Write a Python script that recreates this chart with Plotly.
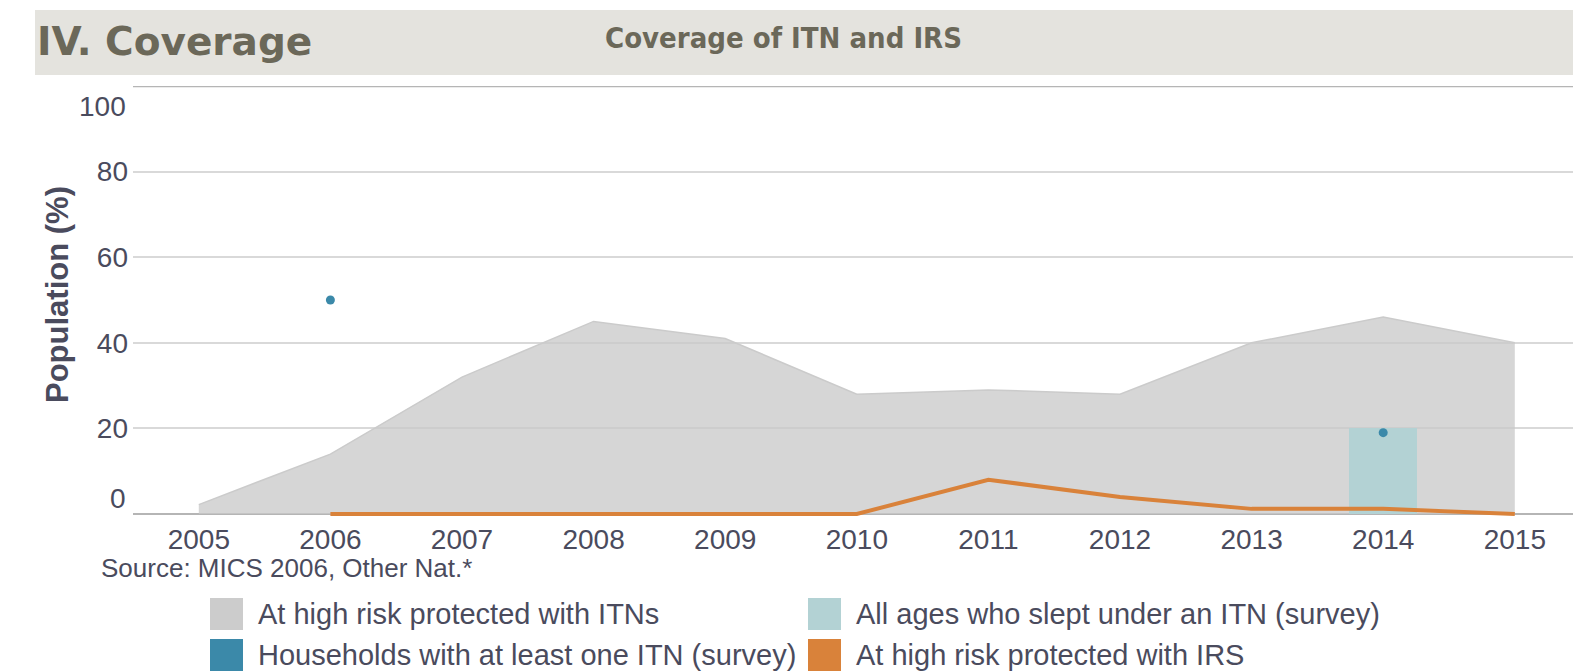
import plotly.graph_objects as go

# ---------------- data ----------------
years = [2005, 2006, 2007, 2008, 2009, 2010, 2011, 2012, 2013, 2014, 2015]
itn_high_risk = [2.2, 14, 32, 45, 41, 28, 29, 28, 40, 46, 40]
irs_years = [2006, 2007, 2008, 2009, 2010, 2011, 2012, 2013, 2014, 2015]
irs_high_risk = [0, 0, 0, 0, 0, 8, 4, 1.2, 1.2, 0]
hh_itn_years = [2006, 2014]
hh_itn = [50, 19]
slept_itn_years = [2014]
slept_itn = [20]
y_ticks = [0, 20, 40, 60, 80, 100]

legend_names = ["At high risk protected with ITNs", "All ages who slept under an ITN (survey)",
                "Households with at least one ITN (survey)", "At high risk protected with IRS"]

C_AREA_LINE = "#cbcbcb"
C_AREA_FILL = "rgba(201,201,201,0.76)"
C_BAR = "#b3d2d4"
C_DOT = "#3b89a9"
C_IRS = "#d9823a"
C_TEXT = "#4a4b5d"
C_HEAD = "#6b6859"
C_AXIS = "#b5b5b5"
legend_colors = ["#cccccc", C_BAR, "#3b89a9", C_IRS]

W, H = 1573, 671
Y_LOW = -1.4  # small room below 0 so the IRS line at 0 is not clipped
ML, MR, MT, MB = 133, 0, 86, 151
PW, PH = W - ML - MR, H - MT - MB


def px_x(px):
    return (px - ML) / PW


def px_y(py):
    return (H - MB - py) / PH


fig = go.Figure()

# area on the base axes (drawn lowest)
fig.add_trace(go.Scatter(
    x=years, y=itn_high_risk, mode="lines", fill="tozeroy",
    line=dict(color=C_AREA_LINE, width=1.5), fillcolor=C_AREA_FILL,
    name=legend_names[0], showlegend=False, hoverinfo="x+y"))

# overlay axes so the survey bar sits above the area
fig.add_trace(go.Bar(
    x=slept_itn_years, y=slept_itn, width=0.52, yaxis="y2",
    marker=dict(color=C_BAR, line=dict(width=0)),
    name=legend_names[1], showlegend=False))

fig.add_trace(go.Scatter(
    x=irs_years, y=irs_high_risk, mode="lines", yaxis="y2",
    line=dict(color=C_IRS, width=4),
    name=legend_names[3], showlegend=False, cliponaxis=False))

fig.add_trace(go.Scatter(
    x=hh_itn_years, y=hh_itn, mode="markers", yaxis="y2",
    marker=dict(color=C_DOT, size=9),
    name=legend_names[2], showlegend=False))

font_main = "Liberation Sans, Arial, Helvetica, sans-serif"

fig.update_layout(
    width=W, height=H,
    margin=dict(l=ML, r=MR, t=MT, b=MB, pad=0),
    paper_bgcolor="white", plot_bgcolor="white",
    showlegend=False,
    bargap=0,
    font=dict(family=font_main, color=C_TEXT),
    xaxis=dict(
        range=[2004.5, 2004.5 + PW / 131.6],
        tickmode="array", tickvals=years, ticktext=[str(y) for y in years],
        tickfont=dict(size=28, color=C_TEXT, family=font_main),
        showgrid=False, zeroline=False, ticks="", ticklabelstandoff=0,
        showline=False, fixedrange=True,
    ),
    yaxis=dict(
        range=[Y_LOW, 100],
        tickmode="array", tickvals=y_ticks[1:-1], ticktext=[str(v) for v in y_ticks[1:-1]],
        tickfont=dict(size=28, color=C_TEXT, family=font_main),
        showgrid=True, gridcolor="#d9d9d9", gridwidth=2,
        zeroline=True, zerolinecolor=C_AXIS, zerolinewidth=2,
        ticks="", ticklabelstandoff=4,
        showline=False, fixedrange=True,
    ),
    yaxis2=dict(range=[Y_LOW, 100], overlaying="y", visible=False, showgrid=False,
                zeroline=False, fixedrange=True),
)

shapes = []
annotations = []

# top frame line at 100
shapes.append(dict(type="line", xref="paper", yref="y", x0=0, x1=1, y0=y_ticks[-1], y1=y_ticks[-1],
                   line=dict(color=C_AXIS, width=2.5), layer="below"))

# header band
shapes.append(dict(type="rect", xref="paper", yref="paper",
                   x0=px_x(35), x1=1.0, y0=px_y(75), y1=px_y(10),
                   fillcolor="#e4e3de", line=dict(width=0), layer="below"))
annotations.append(dict(text="<b>IV. Coverage</b>", xref="paper", yref="paper",
                        x=px_x(35), y=px_y(41), xanchor="left", yanchor="middle", showarrow=False,
                        font=dict(family="DejaVu Sans, sans-serif", size=39, color=C_HEAD)))
annotations.append(dict(text="<b>Coverage of ITN and IRS</b>", xref="paper", yref="paper",
                        x=px_x(783), y=px_y(38), xanchor="center", yanchor="middle", showarrow=False,
                        font=dict(family="Liberation Sans Narrow, DejaVu Sans Condensed, sans-serif",
                                  size=29, color=C_HEAD)))

# y tick labels for 0 and 100 (pushed inside like the reference)
annotations.append(dict(text=str(y_ticks[0]), xref="paper", yref="y", x=px_x(128), y=y_ticks[0],
                        xanchor="right", yanchor="middle", yshift=16, showarrow=False,
                        font=dict(size=28, color=C_TEXT, family=font_main)))
annotations.append(dict(text=str(y_ticks[-1]), xref="paper", yref="y", x=px_x(128), y=y_ticks[-1],
                        xanchor="right", yanchor="middle", yshift=-20, showarrow=False,
                        font=dict(size=28, color=C_TEXT, family=font_main)))

# y axis title
annotations.append(dict(text="<b>Population (%)</b>", xref="paper", yref="paper",
                        x=px_x(57), y=px_y(295), xanchor="center", yanchor="middle",
                        textangle=-90, showarrow=False,
                        font=dict(size=31, color=C_TEXT, family=font_main)))

# source
annotations.append(dict(text="Source: MICS 2006, Other Nat.*", xref="paper", yref="paper",
                        x=px_x(99), y=px_y(568), xanchor="left", yanchor="middle", showarrow=False,
                        font=dict(size=26, color=C_TEXT, family=font_main)))

# legend (2 x 2)
leg_pos = [(210, 614), (808, 614), (210, 655), (808, 655)]
for name, col, (lx, ly) in zip(legend_names, legend_colors, leg_pos):
    shapes.append(dict(type="rect", xref="paper", yref="paper",
                       x0=px_x(lx), x1=px_x(lx + 33), y0=px_y(ly + 16), y1=px_y(ly - 16),
                       fillcolor=col, line=dict(width=0)))
    annotations.append(dict(text=name, xref="paper", yref="paper",
                            x=px_x(lx + 46), y=px_y(ly), xanchor="left", yanchor="middle",
                            showarrow=False, font=dict(size=29, color=C_TEXT, family=font_main)))

fig.update_layout(shapes=shapes, annotations=annotations)

fig.write_html("out.html",
               config={"displayModeBar": False},
               post_script="document.body.style.margin='0';document.body.style.overflow='hidden';")
